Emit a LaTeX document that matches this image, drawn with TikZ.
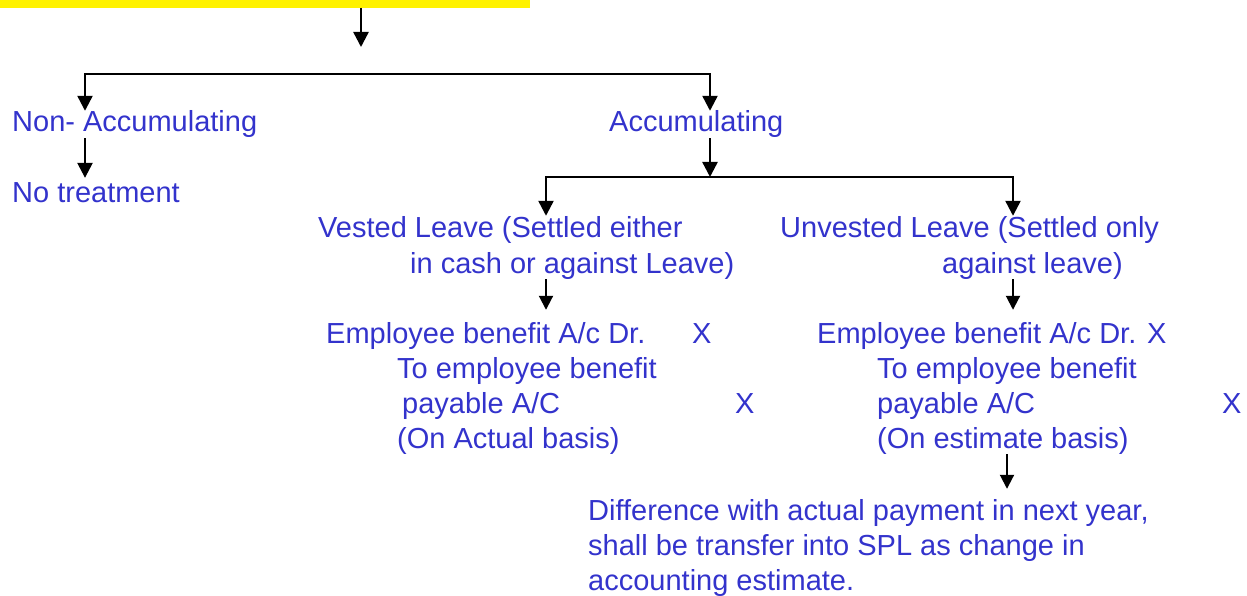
\documentclass[tikz,border=0pt]{standalone}
\usepackage{fontspec}
\setmainfont{Liberation Sans}
\usetikzlibrary{arrows.meta}
\definecolor{tblue}{RGB}{51,51,204}
\tikzset{
  txt/.style={anchor=base west, inner sep=0pt, text=tblue,
              font=\fontsize{29}{35}\selectfont},
  tip/.style={Triangle[width=15pt,length=15pt]},
  arr/.style={line width=2.4pt, -{Triangle[width=15pt,length=15pt]}},
  arrs/.style={line width=2pt, -{Triangle[width=14pt,length=14pt]}},
  fork/.style={line width=2.4pt, {Triangle[width=15pt,length=15pt]}-{Triangle[width=15pt,length=15pt]}}
}
\begin{document}
\begin{tikzpicture}[x=1pt,y=-1pt]
\useasboundingbox (0,0) rectangle (1247,596);

% highlighted heading strip
\node[fill=yellow, inner sep=0pt, minimum width=530pt, minimum height=7.5pt,
      anchor=north west] (hdr) at (0,0) {};

% branch points
\coordinate (c0) at (361,0);
\coordinate (c0end) at (361,47);
\coordinate (bL) at (85,74);
\coordinate (bR) at (710,74);
\coordinate (aJ) at (710,177);
\coordinate (vL) at (546,177);
\coordinate (vR) at (1013,177);
\coordinate (dX) at (1007,0);

% first level
\node[txt] (nonacc) at (12,132) {Non- Accumulating};
\node[txt] (acc) at (609,132) {Accumulating};
\node[txt] (notreat) at (12,203) {No treatment};

% vested leave
\node[txt] (vest1) at (318,237) {Vested Leave (Settled either};
\node[txt] (vest2) at (410,273) {in cash or against Leave)};
\node[txt] (vdr) at (326,343) {Employee benefit A/c Dr.};
\node[txt] (vx1) at (692,343) {X};
\node[txt] (vto) at (397,378) {To employee benefit};
\node[txt] (vpay) at (402,413) {payable A/C};
\node[txt] (vx2) at (735,413) {X};
\node[txt] (vbasis) at (397,448) {(On Actual basis)};

% unvested leave
\node[txt] (unv1) at (780,237) {Unvested Leave (Settled only};
\node[txt] (unv2) at (942,273) {against leave)};
\node[txt] (udr) at (817,343) {Employee benefit A/c Dr. X};
\node[txt] (uto) at (877,378) {To employee benefit};
\node[txt] (upay) at (877,413) {payable A/C};
\node[txt] (ux2) at (1222,413) {X};
\node[txt] (ubasis) at (877,448) {(On estimate basis)};

% note on the estimate
\node[txt] (diff1) at (588,520) {Difference with actual payment in next year,};
\node[txt] (diff2) at (588,555) {shall be transfer into SPL as change in};
\node[txt] (diff3) at (588,590) {accounting estimate.};

% connectors
\draw[arr] (hdr.south -| c0) -- (c0end);
\draw[fork] (nonacc.north -| bL) -- (bL) -- (bR) -- (acc.north -| bR);
\draw[arr, shorten >=5pt] (nonacc.south -| bL) -- (notreat.north -| bL);
\draw[arr] (acc.south -| aJ) -- (aJ);
\draw[fork] (vest1.north -| vL) -- (vL) -- (vR) -- (unv1.north -| vR);
\draw[arrs, shorten >=12pt] (vest2.south -| vL) -- (vdr.north -| vL);
\draw[arrs, shorten >=12pt] (unv2.south -| vR) -- (udr.north -| vR);
\draw[arrs, shorten >=10pt] (ubasis.south -| dX) -- (diff1.north -| dX);
\end{tikzpicture}
\end{document}
